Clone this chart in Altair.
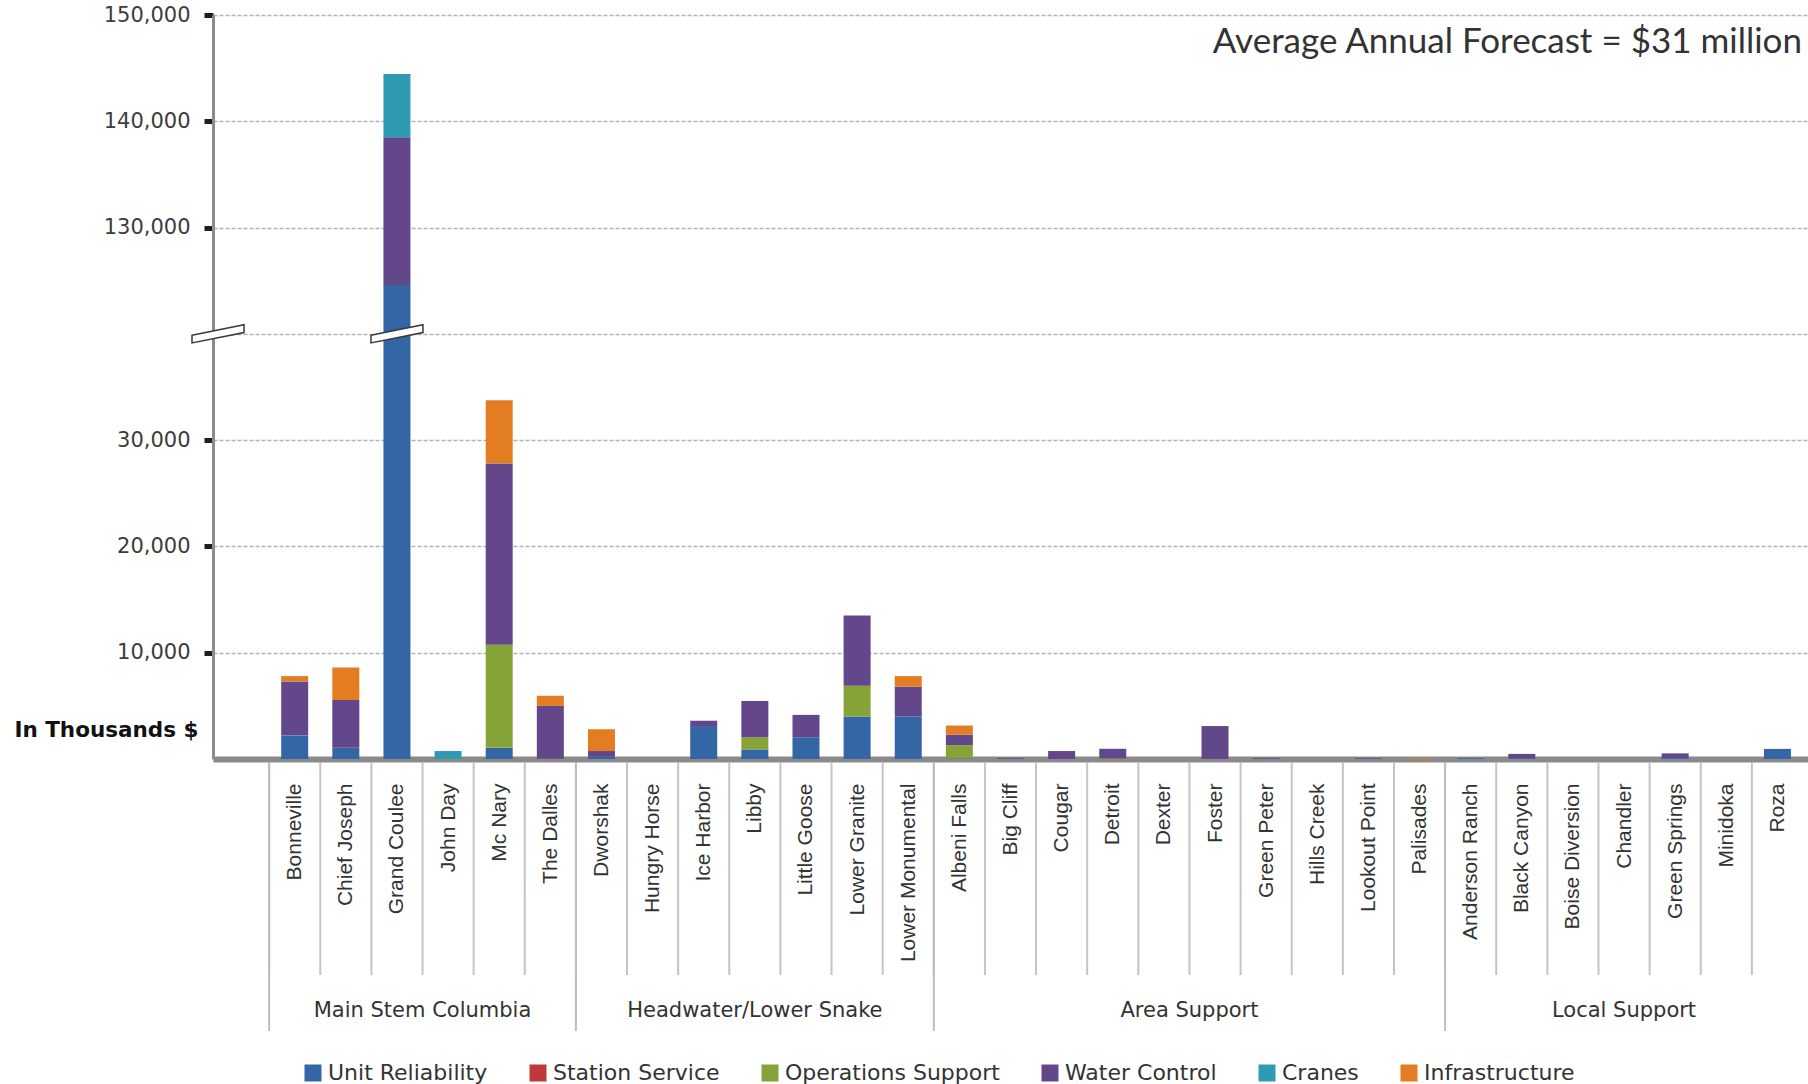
import json
import altair as alt
import pandas as pd

# ---------------- data (thousands of $) ----------------
categories = ["Bonneville", "Chief Joseph", "Grand Coulee", "John Day", "Mc Nary", "The Dalles",
              "Dworshak", "Hungry Horse", "Ice Harbor", "Libby", "Little Goose", "Lower Granite",
              "Lower Monumental",
              "Albeni Falls", "Big Cliff", "Cougar", "Detroit", "Dexter", "Foster", "Green Peter",
              "Hills Creek", "Lookout Point", "Palisades",
              "Anderson Ranch", "Black Canyon", "Boise Diversion", "Chandler", "Green Springs",
              "Minidoka", "Roza"]

groups = ["Main Stem  Columbia", "Headwater/Lower Snake", "Area Support", "Local Support"]
group_sizes = [6, 7, 10, 7]

series_names = ["Unit Reliability", "Station Service", "Operations Support",
                "Water Control", "Cranes", "Infrastructure"]
series_colors = ["#3466a6", "#c0393a", "#86a338", "#62488a", "#2f9bb3", "#e47d22"]

unit_reliability = [2200, 1050, 124600, 0, 1050, 50,
                    200, 0, 3100, 900, 2050, 4000, 4000,
                    50, 0, 0, 0, 0, 0, 0, 0, 0, 0,
                    80, 80, 0, 0, 80, 0, 950]
station_service = [0, 0, 0, 0, 0, 0,
                   0, 0, 0, 0, 0, 0, 0,
                   0, 0, 0, 0, 0, 0, 0, 0, 0, 0,
                   0, 0, 0, 0, 0, 0, 0]
operations_support = [0, 0, 0, 0, 9700, 0,
                      0, 0, 0, 1150, 0, 2900, 0,
                      1250, 0, 0, 60, 0, 0, 0, 0, 0, 0,
                      0, 0, 0, 0, 0, 0, 0]
water_control = [5100, 4500, 13900, 0, 17050, 4950,
                 550, 0, 500, 3400, 2100, 6600, 2800,
                 1000, 80, 750, 900, 0, 3100, 80, 0, 80, 0,
                 0, 400, 0, 0, 450, 0, 0]
cranes = [0, 0, 5950, 750, 0, 0,
          0, 0, 0, 0, 0, 0, 0,
          0, 0, 0, 0, 0, 0, 0, 0, 0, 0,
          0, 0, 0, 0, 0, 0, 0]
infrastructure = [500, 3050, 0, 0, 5950, 950,
                  2050, 0, 0, 0, 0, 0, 1000,
                  850, 0, 0, 0, 0, 0, 0, 0, 0, 80,
                  0, 0, 0, 0, 0, 0, 0]

annotation = "Average Annual Forecast = $31 million"
y_title = "In Thousands $"
break_low = 40000      # axis breaks between 40,000 ...
break_high = 120000    # ... and 120,000

# ---------------- tables ----------------
all_series = [unit_reliability, station_service, operations_support,
              water_control, cranes, infrastructure]
rows = []
for i, cat in enumerate(categories):
    for k, (name, vals) in enumerate(zip(series_names, all_series)):
        rows.append({"site": cat, "x": i + 0.5, "series": name, "order": k, "value": vals[i]})
df = pd.DataFrame(rows)

bounds = []
start = 0
grp_rows = []
for g, n in zip(groups, group_sizes):
    grp_rows.append({"x": start + n / 2, "label": g})
    bounds.append(start)
    start += n
df_groups = pd.DataFrame(grp_rows)
df_gbounds = pd.DataFrame({"x": bounds})
df_cbounds = pd.DataFrame({"x": list(range(len(categories)))})

gap = break_high - break_low
df_breaks = pd.DataFrame({"x": [-1, categories.index("Grand Coulee") + 0.5],
                          "y1": [break_low, break_low]})
df_note = pd.DataFrame({"x": [len(categories) - 0.02], "y1": [147500 - gap], "t": [annotation]})

# ---------------- scales / axes ----------------
W, H = 1595, 744
x_scale = alt.Scale(domain=[-1, len(categories)], nice=False, zero=False)
y_scale = alt.Scale(domain=[0, 150000 - gap], nice=False)

x_axis = alt.Axis(
    values=[i + 0.5 for i in range(len(categories))],
    labelExpr=json.dumps(categories) + "[floor(datum.value)]",
    labelAngle=270, labelFont="Liberation Sans", labelFontSize=21, labelColor="#333333",
    labelPadding=24, labelOverlap=False, ticks=False, grid=False,
    domain=True, domainColor="#8a8a8a", domainWidth=6, title=None,
)
y_axis = alt.Axis(
    values=[0, 10000, 20000, 30000, 40000, 50000, 60000, 70000],
    labelExpr=("datum.value == 0 || datum.value == %d ? '' : "
               "format(datum.value < %d ? datum.value : datum.value + %d, ',')")
              % (break_low, break_low, gap),
    labelFont="DejaVu Sans", labelFontSize=21, labelColor="#3c3c3c", labelPadding=14,
    tickSize=9, tickWidth=5,
    tickColor={"condition": {"test": "datum.value == 0 || datum.value == %d" % break_low,
                             "value": "transparent"}, "value": "#1e1e1e"},
    domainColor="#8c8c8c", domainWidth=3,
    grid=True, gridColor="#b2b2b2", gridDash=[4, 2], gridWidth=1.5,
    title=y_title, titleAngle=0, titleAlign="right", titleBaseline="middle",
    titleX=-15, titleY=715, titleFont="DejaVu Sans", titleFontSize=21.5,
    titleFontWeight="bold", titleColor="#111111",
)

X = alt.X("x:Q", scale=x_scale, axis=x_axis)
Y = alt.Y("y1:Q", scale=y_scale, axis=y_axis)

bars = alt.Chart(df).transform_stack(
    stack="value", groupby=["site"], as_=["v0", "v1"],
    sort=[alt.SortField("order", order="ascending")],
).transform_calculate(
    y0="datum.v0 <= %d ? datum.v0 : datum.v0 - %d" % (break_low, gap),
    y1="datum.v1 <= %d ? datum.v1 : datum.v1 - %d" % (break_low, gap),
).mark_bar(size=27).encode(
    x=X, y=Y, y2="y0:Q",
    color=alt.Color("series:N", scale=alt.Scale(domain=series_names, range=series_colors),
                    legend=alt.Legend(title=None, orient="none", legendX=89, legendY=1047,
                                      direction="horizontal", columns=6,
                                      symbolType="square", symbolSize=289,
                                      symbolStrokeWidth=0, labelFont="DejaVu Sans",
                                      labelFontSize=22, labelColor="#333333", labelLimit=400,
                                      columnPadding=39, labelOffset=4, padding=0)),
)

cat_rules = alt.Chart(df_cbounds).mark_rule(color="#c4c4c4", strokeWidth=2).encode(
    x=X, y=alt.value(747), y2=alt.value(960))
grp_rules = alt.Chart(df_gbounds).mark_rule(color="#bdbdbd", strokeWidth=2).encode(
    x=X, y=alt.value(747), y2=alt.value(1016))
grp_text = alt.Chart(df_groups).mark_text(
    font="DejaVu Sans", fontSize=21, color="#333333", baseline="middle").encode(
    x=X, y=alt.value(996), text="label:N")

break_path = "M -1 0.05 L 1 -0.35 L 1 -0.05 L -1 0.35 Z"
breaks = alt.Chart(df_breaks).mark_point(
    shape=break_path, size=2704, filled=True, fill="white", fillOpacity=1,
    stroke="#3a3a3a", strokeWidth=1.5, strokeOpacity=1, opacity=1).encode(x=X, y=Y)

note = alt.Chart(df_note).mark_text(
    font="Lato", fontSize=35, color="#333333", align="right", baseline="middle").encode(
    x=X, y=Y, text="t:N")

chart = alt.layer(cat_rules, grp_rules, grp_text, bars, breaks, note).properties(
    width=W, height=H,
    padding={"left": 213, "top": 15, "right": 0, "bottom": 325},
    autosize=alt.AutoSizeParams(type="none"),
    background="white",
).configure_view(stroke=None)

chart.save("out.html", embed_options={"renderer": "svg", "actions": False})
